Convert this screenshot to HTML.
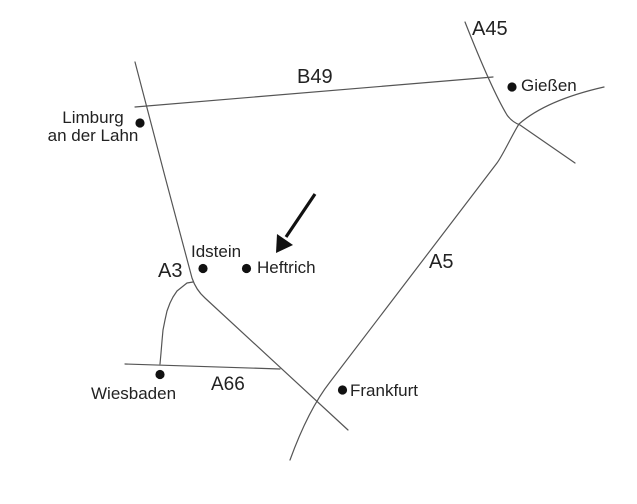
<!DOCTYPE html>
<html>
<head>
<meta charset="utf-8">
<style>
  html,body{margin:0;padding:0;background:#fff;}
  svg{display:block;}
  text{font-family:"Liberation Sans", Arial, sans-serif; fill:#222;}
  .city{font-size:17px;}
  .road{font-size:20px;}
  .ln{fill:none;stroke:#555;stroke-width:1.2;stroke-linejoin:round;stroke-linecap:round;}
</style>
</head>
<body>
<svg width="637" height="504" viewBox="0 0 637 504" xmlns="http://www.w3.org/2000/svg">
  <rect width="637" height="504" fill="#fff"/>

  <!-- A3 -->
  <path class="ln" d="M135,62 C150,120 175,215 192,278 Q196,290 205,298 L348,430"/>
  <!-- B49 -->
  <path class="ln" d="M135,107 L493,77"/>
  <!-- A45 -->
  <path class="ln" d="M465,22 C480,60 495,95 507,115 Q512,122 520,125 L575,163"/>
  <!-- A5 -->
  <path class="ln" d="M290,460 C298,438 312,405 330,382 L497,163 C503,155 512,135 519,124 C535,110 560,97 604,87"/>
  <!-- Wiesbaden connector -->
  <polyline class="ln" points="160,364 161,353 162,341 163,330 165,320 167,311 170,303 173,297 177,291 182,287 187,283 193,282"/>
  <!-- A66 -->
  <path class="ln" d="M125,364 L280,369"/>

  <!-- dots -->
  <circle cx="140" cy="123" r="4.6" fill="#111"/>
  <circle cx="512" cy="87" r="4.6" fill="#111"/>
  <circle cx="203" cy="268.5" r="4.6" fill="#111"/>
  <circle cx="246.5" cy="268.5" r="4.6" fill="#111"/>
  <circle cx="160" cy="374.5" r="4.6" fill="#111"/>
  <circle cx="342.5" cy="390" r="4.6" fill="#111"/>

  <!-- arrow -->
  <line x1="315" y1="194" x2="286" y2="237" stroke="#111" stroke-width="3.2" stroke-linecap="butt"/>
  <polygon points="276,253 277,234 293,245" fill="#111"/>

  <!-- labels -->
  <text class="city" x="93" y="123" text-anchor="middle">Limburg</text>
  <text class="city" x="93" y="141" text-anchor="middle">an der Lahn</text>
  <text class="road" x="297" y="83">B49</text>
  <text class="road" x="472" y="35">A45</text>
  <text class="city" x="521" y="91">Gießen</text>
  <text class="city" x="191" y="257">Idstein</text>
  <text class="city" x="257" y="273">Heftrich</text>
  <text class="road" x="158" y="277">A3</text>
  <text class="road" x="429" y="268">A5</text>
  <text class="road" x="211" y="390" style="font-size:19px">A66</text>
  <text class="city" x="91" y="399">Wiesbaden</text>
  <text class="city" x="350" y="396">Frankfurt</text>
</svg>
</body>
</html>
